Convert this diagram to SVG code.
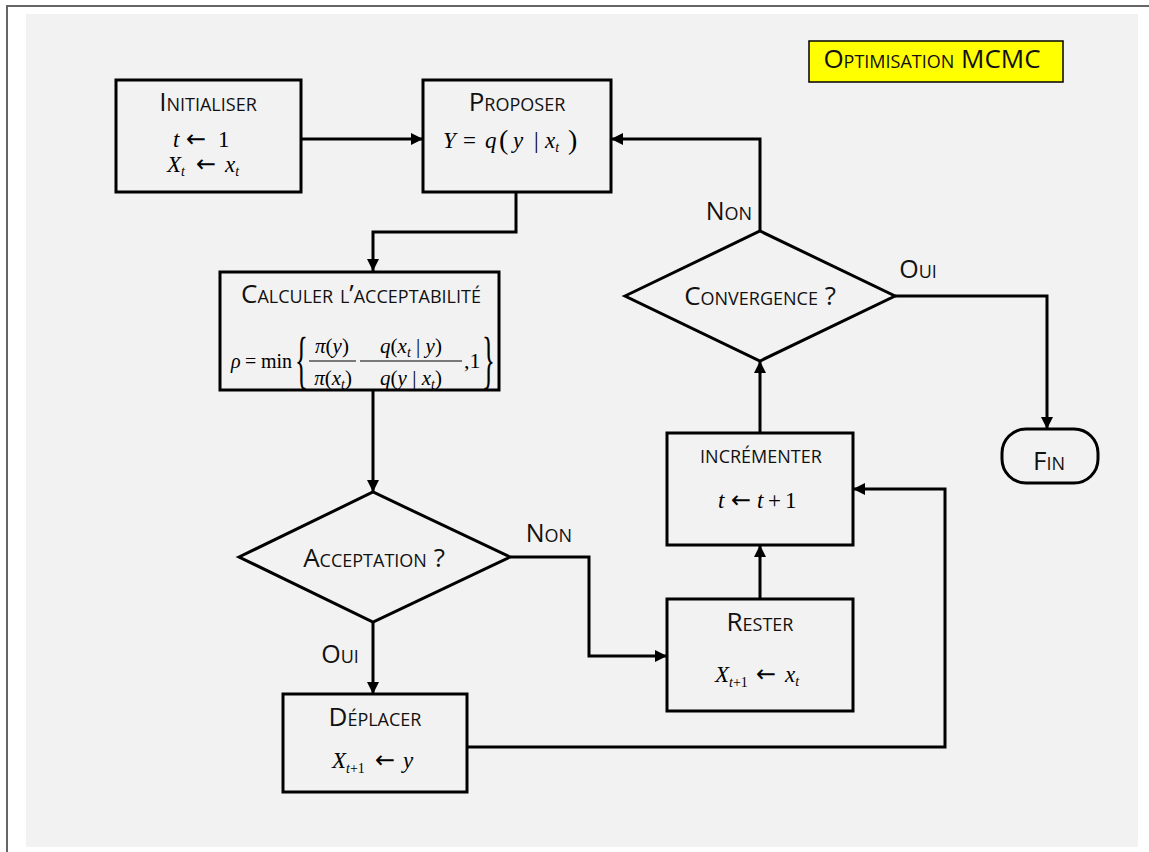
<svg xmlns="http://www.w3.org/2000/svg" width="1149" height="852" viewBox="0 0 1149 852">
<defs>
<marker id="arr" markerUnits="userSpaceOnUse" markerWidth="14" markerHeight="14" viewBox="0 0 14 14" refX="12" refY="7" orient="auto">
<path d="M0,1 L12,7 L0,13 Z" fill="#000"/>
</marker>
<style>
.bg{fill:#fff}
.panel{fill:#f2f2f2}
.frame{stroke:#666;stroke-width:2;fill:none}
.box{fill:#f2f2f2;stroke:#000;stroke-width:3}
.conn{fill:none;stroke:#000;stroke-width:3;marker-end:url(#arr)}
.sc{font-family:"Open Sans","Liberation Sans",sans-serif;font-variant:small-caps;font-size:26px;fill:#111;text-anchor:middle}
.lbl{font-family:"Open Sans","Liberation Sans",sans-serif;font-variant:small-caps;font-size:25px;fill:#111;text-anchor:middle}
.m{font-family:"Liberation Serif","Times New Roman",serif;font-size:23px;fill:#000}
.f{font-size:21px}
.mc{text-anchor:middle}
.i{font-style:italic}
.sub{font-size:14px;font-style:italic}
.ar{font-family:"DejaVu Sans",sans-serif;font-size:24px;font-style:normal}
.br{font-family:"Liberation Serif","Times New Roman",serif;font-size:64px;fill:#000}
.bar{stroke:#000;stroke-width:1.2}
</style>
</defs>
<rect class="bg" x="0" y="0" width="1149" height="852"/>
<rect class="panel" x="26" y="14" width="1112" height="833"/>
<path class="frame" d="M7,852 V6 H1149"/>

<g id="title">
<rect x="809" y="41" width="254" height="41" fill="#ffff00" stroke="#000" stroke-width="1.5"/>
<text class="sc" x="932" y="68">Optimisation MCMC</text>
</g>

<g id="connectors">
<path class="conn" d="M301,139 H423"/>
<path class="conn" d="M516,192 V232 H373 V271"/>
<path class="conn" d="M373,390 V492"/>
<path class="conn" d="M373,622 V694"/>
<path class="conn" d="M510,557 H589 V656 H667"/>
<path class="conn" d="M467,747 H945 V489 H853"/>
<path class="conn" d="M760,599 V545"/>
<path class="conn" d="M760,433 V361"/>
<path class="conn" d="M760,231 V139 H611"/>
<path class="conn" d="M895,296 H1047 V429"/>
<text class="lbl" x="549" y="542">Non</text>
<text class="lbl" x="340" y="663">Oui</text>
<text class="lbl" x="729" y="220">Non</text>
<text class="lbl" x="918" y="278">Oui</text>
</g>

<g id="initialiser">
<rect class="box" x="116" y="80" width="185" height="112"/>
<text class="sc" x="208" y="111">Initialiser</text>
<text class="m" x="173" y="147"><tspan class="i">t</tspan><tspan class="ar" x="186">←</tspan><tspan x="218">1</tspan></text>
<text class="m" x="167" y="172"><tspan class="i">X</tspan><tspan class="sub" dy="4">t</tspan><tspan class="ar" x="196" dy="-4">←</tspan><tspan class="i" x="225">x</tspan><tspan class="sub" dy="4">t</tspan></text>
</g>

<g id="proposer">
<rect class="box" x="423" y="80" width="188" height="112"/>
<text class="sc" x="517" y="111">Proposer</text>
<text class="m" x="443" y="148"><tspan class="i">Y</tspan><tspan x="463">=</tspan><tspan class="i" x="485">q</tspan><tspan x="499" style="font-size:28px" dy="1">(</tspan><tspan class="i" x="513" dy="-1">y</tspan><tspan x="534">|</tspan><tspan class="i" x="545">x</tspan><tspan class="sub" dy="4">t</tspan><tspan x="568" style="font-size:28px" dy="-3">)</tspan></text>
</g>

<g id="calculer">
<rect class="box" x="220" y="272" width="279" height="118"/>
<text class="sc" x="361" y="303">Calculer  l’acceptabilité</text>
<text class="m" y="368" style="font-size:20px"><tspan class="i" x="231">ρ</tspan><tspan x="245">=</tspan><tspan x="261">min</tspan></text>
<text class="br" x="0" y="0" transform="translate(295,381) scale(0.42,1)">{</text>
<text class="m f mc" x="332" y="353"><tspan class="i">π</tspan>(<tspan class="i">y</tspan>)</text>
<line class="bar" x1="309" y1="361" x2="356" y2="361"/>
<text class="m f mc" x="333" y="385"><tspan class="i">π</tspan>(<tspan class="i">x</tspan><tspan class="sub" dy="4">t</tspan><tspan dy="-4">)</tspan></text>
<text class="m f mc" x="411" y="353"><tspan class="i">q</tspan>(<tspan class="i">x</tspan><tspan class="sub" dy="4">t</tspan><tspan dy="-4"> | </tspan><tspan class="i">y</tspan>)</text>
<line class="bar" x1="360" y1="361" x2="462" y2="361"/>
<text class="m f mc" x="411" y="385"><tspan class="i">q</tspan>(<tspan class="i">y</tspan> | <tspan class="i">x</tspan><tspan class="sub" dy="4">t</tspan><tspan dy="-4">)</tspan></text>
<text class="m" x="464" y="368" style="font-size:22px">,1</text>
<text class="br" x="0" y="0" transform="translate(482,381) scale(0.42,1)">}</text>
</g>

<g id="acceptation">
<polygon class="box" points="239,557 373,492 510,557 373,622"/>
<text class="sc" x="374" y="567">Acceptation ?</text>
</g>

<g id="deplacer">
<rect class="box" x="283" y="694" width="184" height="98"/>
<text class="sc" x="375" y="726">Déplacer</text>
<text class="m" x="332" y="768"><tspan class="i">X</tspan><tspan class="sub" dy="5">t</tspan><tspan font-size="14">+1</tspan><tspan class="ar" x="375" dy="-5">←</tspan><tspan class="i" x="403">y</tspan></text>
</g>

<g id="rester">
<rect class="box" x="667" y="599" width="186" height="112"/>
<text class="sc" x="760" y="631">Rester</text>
<text class="m" x="715" y="682"><tspan class="i">X</tspan><tspan class="sub" dy="5">t</tspan><tspan font-size="14">+1</tspan><tspan class="ar" x="756" dy="-5">←</tspan><tspan class="i" x="785">x</tspan><tspan class="sub" dy="4">t</tspan></text>
</g>

<g id="incrementer">
<rect class="box" x="667" y="433" width="186" height="112"/>
<text class="sc" x="761" y="463">incrémenter</text>
<text class="m" x="718" y="508"><tspan class="i">t</tspan><tspan class="ar" x="731">←</tspan><tspan class="i" x="757">t</tspan><tspan x="768">+</tspan><tspan x="785">1</tspan></text>
</g>

<g id="convergence">
<polygon class="box" points="625,296 760,231 895,296 760,361"/>
<text class="sc" x="760" y="305">Convergence ?</text>
</g>

<g id="fin">
<rect class="box" x="1002" y="429" width="96" height="54" rx="24" ry="24"/>
<text class="sc" x="1049" y="470">Fin</text>
</g>
</svg>
